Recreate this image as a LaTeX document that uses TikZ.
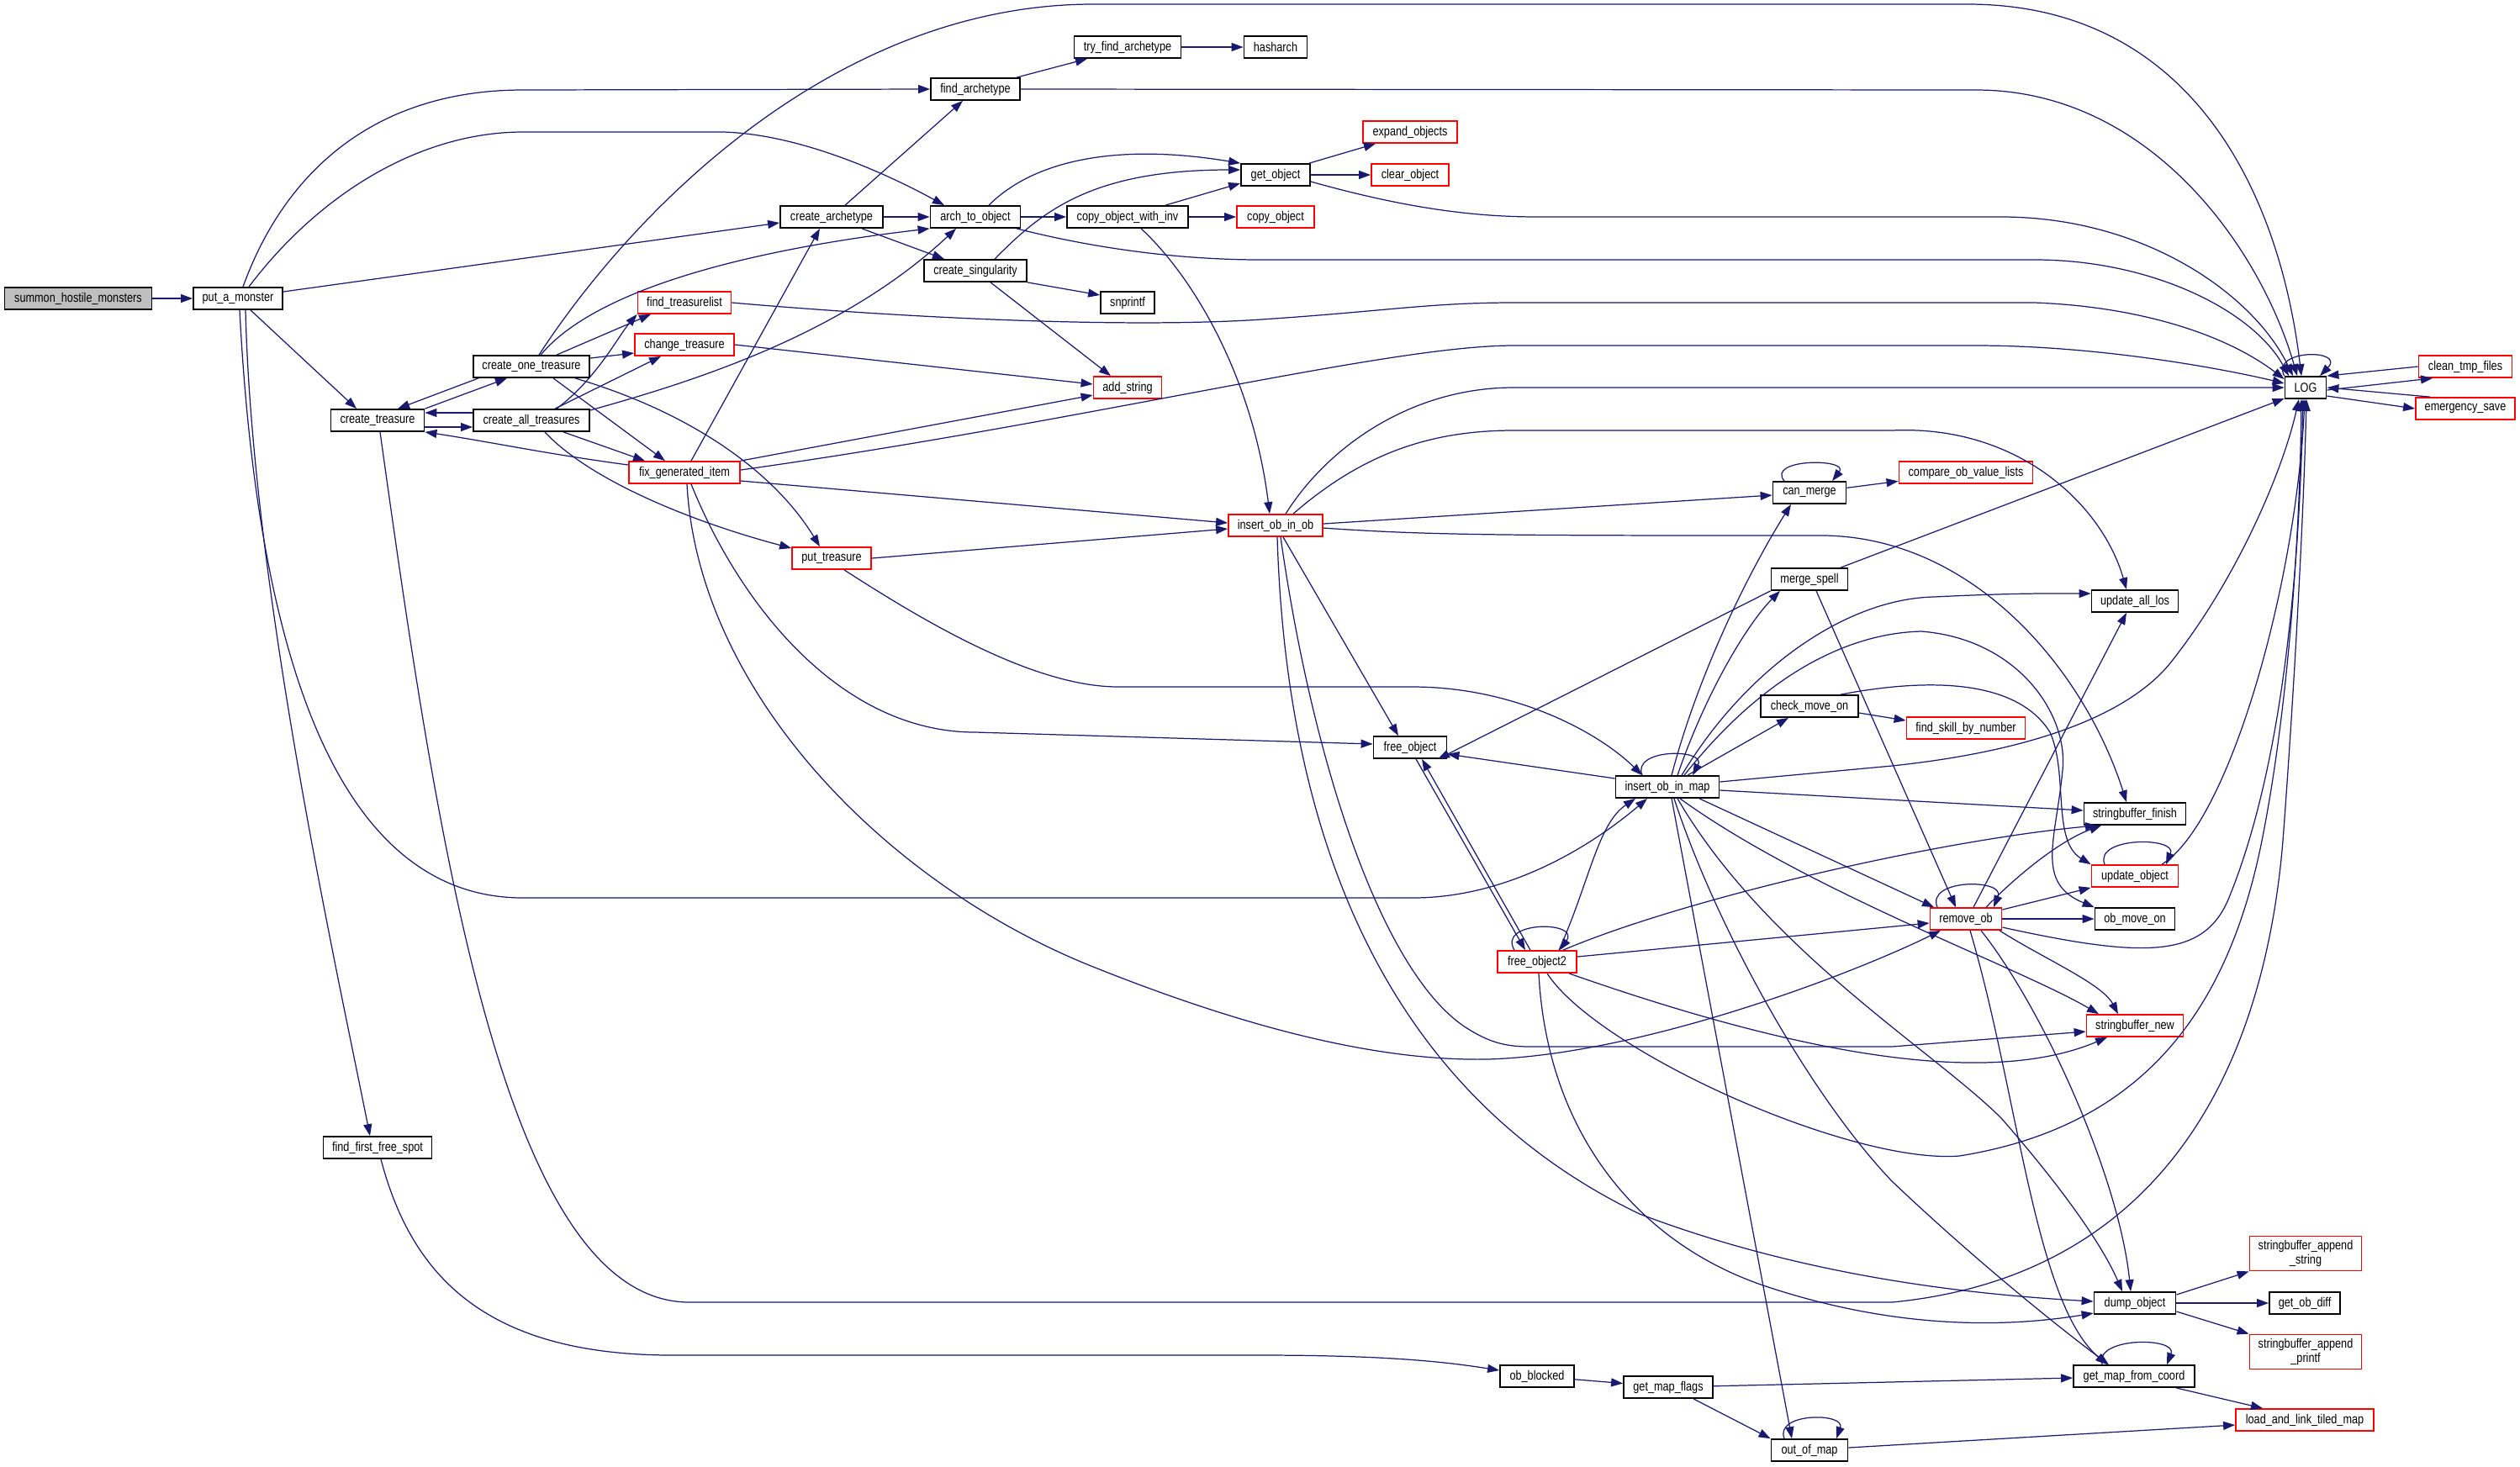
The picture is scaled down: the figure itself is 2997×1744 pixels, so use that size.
\documentclass[tikz,border=0pt]{standalone}
\usepackage{fontspec}
\setmainfont[FakeStretch=0.82]{Liberation Sans}
\usetikzlibrary{arrows.meta}
\definecolor{edgec}{RGB}{25,25,112}
\definecolor{redb}{RGB}{255,0,0}
\definecolor{rootg}{RGB}{191,191,191}
\newcommand{\gfont}{\fontsize{4.4pt}{4.8pt}\selectfont}
\begin{document}
\begin{tikzpicture}[x=0.01cm,y=-0.01cm,
  nb/.style={draw=black,line width=0.5pt,fill=white,minimum height=0.26cm,inner sep=0pt,font=\gfont,align=center},
  rb/.style={nb,draw=redb},
  e/.style={draw=edgec,line width=0.35pt,-{Triangle[length=0.14cm,width=0.1cm]}}]
\fill[white] (0,0) rectangle (2997,1744);
\useasboundingbox (0,0) rectangle (2997,1744);
% nodes
\node[nb,fill=rootg,minimum width=1.75cm] (shm) at (93,355) {summon\_hostile\_monsters};
\node[nb,minimum width=1.06cm] (pam) at (283,355) {put\_a\_monster};
\node[nb,minimum width=1.38cm] (cot) at (632,436) {create\_one\_treasure};
\node[nb,minimum width=1.11cm] (ct) at (449,500) {create\_treasure};
\node[nb,minimum width=1.38cm] (cat) at (632,500) {create\_all\_treasures};
\node[nb,minimum width=1.27cm] (tfa) at (1341,56) {try\_find\_archetype};
\node[nb,minimum width=0.75cm] (ha) at (1517,56) {hasharch};
\node[nb,minimum width=1.06cm] (fa) at (1160,106) {find\_archetype};
\node[nb,minimum width=1.22cm] (cra) at (989,258) {create\_archetype};
\node[nb,minimum width=1.07cm] (ato) at (1160,258) {arch\_to\_object};
\node[nb,minimum width=1.44cm] (cowi) at (1341,258) {copy\_object\_with\_inv};
\node[nb,minimum width=0.82cm] (go) at (1517,208) {get\_object};
\node[rb,minimum width=0.92cm] (cpo) at (1517,258) {copy\_object};
\node[nb,minimum width=1.22cm] (cs) at (1160,322) {create\_singularity};
\node[nb,minimum width=0.64cm] (sn) at (1341,360) {snprintf};
\node[rb,minimum width=1.11cm] (ftl) at (814,360) {find\_treasurelist};
\node[rb,minimum width=1.18cm] (cht) at (814,410) {change\_treasure};
\node[rb,minimum width=0.81cm] (as) at (1341,461) {add\_string};
\node[rb,minimum width=1.32cm] (fgi) at (814,562) {fix\_generated\_item};
\node[rb,minimum width=1.12cm] (eo) at (1677,157) {expand\_objects};
\node[rb,minimum width=0.92cm] (clo) at (1677,208) {clear\_object};
\node[nb,minimum width=0.87cm] (cm) at (2152,586) {can\_merge};
\node[nb,minimum width=0.49cm] (LOG) at (2742,461) {LOG};
\node[rb,minimum width=1.11cm] (ctf) at (2932,436) {clean\_tmp\_files};
\node[rb,minimum width=1.18cm] (es) at (2932,486) {emergency\_save};
\node[rb,minimum width=1.59cm] (covl) at (2338,562) {compare\_ob\_value\_lists};
\node[rb,minimum width=0.94cm] (pt) at (989,664) {put\_treasure};
\node[rb,minimum width=1.12cm] (ioo) at (1517,625) {insert\_ob\_in\_ob};
\node[nb,minimum width=0.91cm] (ms) at (2152,689) {merge\_spell};
\node[nb,minimum width=1.16cm] (cmo) at (2152,840) {check\_move\_on};
\node[nb,minimum width=0.87cm] (fo) at (1677,889) {free\_object};
\node[nb,minimum width=1.23cm] (iom) at (1983,936) {insert\_ob\_in\_map};
\node[rb,minimum width=0.94cm] (fo2) at (1828,1144) {free\_object2};
\node[nb,minimum width=1.03cm] (ual) at (2539,715) {update\_all\_los};
\node[rb,minimum width=1.41cm] (fsbn) at (2338,866) {find\_skill\_by\_number};
\node[nb,minimum width=1.21cm] (sbf) at (2539,968) {stringbuffer\_finish};
\node[rb,minimum width=1.03cm] (uo) at (2539,1042) {update\_object};
\node[rb,minimum width=0.85cm] (rmo) at (2338,1093) {remove\_ob};
\node[nb,minimum width=0.95cm] (omo) at (2539,1093) {ob\_move\_on};
\node[nb,minimum width=1.29cm] (ffs) at (449,1365) {find\_first\_free\_spot};
\node[nb,minimum width=0.88cm] (obb) at (1828,1637) {ob\_blocked};
\node[nb,minimum width=1.06cm] (gmf) at (1984,1650) {get\_map\_flags};
\node[nb,minimum width=0.91cm] (oom) at (2152,1725) {out\_of\_map};
\node[rb,minimum width=1.15cm] (sbn) at (2539,1220) {stringbuffer\_new};
\node[rb,minimum width=1.33cm,minimum height=0.41cm] (sbas) at (2742,1491) {stringbuffer\_append\\\_string};
\node[nb,minimum width=0.97cm] (dmp) at (2539,1550) {dump\_object};
\node[nb,minimum width=0.84cm] (god) at (2741,1550) {get\_ob\_diff};
\node[rb,minimum width=1.33cm,minimum height=0.41cm] (sbap) at (2742,1608) {stringbuffer\_append\\\_printf};
\node[nb,minimum width=1.44cm] (gmfc) at (2538,1637) {get\_map\_from\_coord};
\node[rb,minimum width=1.64cm] (lalt) at (2741,1689) {load\_and\_link\_tiled\_map};
% edges
\draw[e] (shm) -- (pam);
\draw[e] ([xshift=0.06cm]pam.north) .. controls (340,200) and (450,107) .. (622,107) -- (fa.west);
\draw[e] ([xshift=0.13cm]pam.north) .. controls (380,230) and (500,157) .. (622,157) -- (860,157) .. controls (960,160) and (1070,215) .. ([xshift=-0.37cm]ato.north);
\draw[e] ([yshift=0.08cm]pam.east) -- ([yshift=-0.07cm]cra.west);
\draw[e] ([xshift=0.15cm]pam.south) -- ([xshift=-0.25cm]ct.north);
\draw[e] ([xshift=0.09cm]pam.south) .. controls (300,700) and (400,1150) .. ([xshift=-0.09cm]ffs.north);
\draw[e] ([xshift=0.02cm]pam.south) .. controls (310,850) and (430,1068) .. (622,1068) -- (1680,1068) .. controls (1800,1068) and (1900,1000) .. ([xshift=-0.24cm]iom.south);
\draw[e] ([yshift=0.09cm]cat.west) -- ([yshift=0.09cm]ct.east);
\draw[e] ([yshift=-0.08cm]ct.east) -- ([yshift=-0.08cm]cat.west);
\draw[e] ([xshift=-0.63cm]cot.south) -- ([xshift=0.24cm]ct.north);
\draw[e] (ct.north east) -- ([xshift=-0.29cm]cot.south);
\draw[e] ([yshift=0.09cm]fgi.west) .. controls (650,540) and (580,525) .. (ct.south east);
\draw[e] ([xshift=0.09cm]cot.north) .. controls (760,240) and (1000,5) .. (1300,5) -- (2340,5) .. controls (2600,5) and (2710,220) .. ([xshift=-0.05cm]LOG.north);
\draw[e] ([xshift=0.11cm]cot.north) .. controls (720,330) and (950,290) .. (ato.south west);
\draw[e] ([xshift=0.3cm]cot.north) -- ([xshift=-0.4cm]ftl.south);
\draw[e] ([yshift=0.1cm]cot.east) -- ([yshift=-0.1cm]cht.west);
\draw[e] ([xshift=0.26cm]cot.south) -- ([xshift=-0.23cm]fgi.north);
\draw[e] ([xshift=0.52cm]cot.south) .. controls (820,490) and (920,560) .. ([xshift=-0.14cm]pt.north);
\draw[e] ([xshift=0.3cm]cat.north) .. controls (710,450) and (735,400) .. (ftl.south west);
\draw[e] ([xshift=0.28cm]cat.north) -- ([xshift=-0.28cm]cht.south);
\draw[e] ([yshift=0.12cm]cat.east) .. controls (820,455) and (1000,400) .. ([xshift=-0.23cm]ato.south);
\draw[e] ([xshift=0.38cm]cat.south) -- ([xshift=-0.47cm]fgi.north);
\draw[e] ([xshift=0.16cm]cat.south) .. controls (700,570) and (820,620) .. ([yshift=0.12cm]pt.west);
\draw[e] ([xshift=0.08cm]fgi.north) -- ([xshift=-0.14cm]cra.south);
\draw[e] (fgi.north east) -- ([yshift=-0.09cm]as.west);
\draw[e] ([yshift=0.03cm]fgi.east) .. controls (1300,500) and (1650,411) .. (1800,411) -- (2350,411) .. controls (2500,411) and (2650,440) .. ([yshift=0.05cm]LOG.west);
\draw[e] ([yshift=-0.1cm]fgi.east) -- ([yshift=0.03cm]ioo.west);
\draw[e] ([xshift=0.08cm]fgi.south) .. controls (880,720) and (1000,871) .. (1160,871) -- ([yshift=0.04cm]fo.west);
\draw[e] ([xshift=0.03cm]fgi.south) .. controls (830,820) and (1050,1050) .. (1300,1150) .. controls (1500,1230) and (1650,1262) .. (1768,1260) .. controls (1950,1255) and (2200,1160) .. ([xshift=-0.3cm]rmo.south);
\draw[e] (pt.east) -- ([yshift=-0.04cm]ioo.west);
\draw[e] ([xshift=0.15cm]pt.south) .. controls (1100,740) and (1230,817) .. (1330,817) -- (1680,817) .. controls (1800,817) and (1900,870) .. ([xshift=-0.3cm]iom.north);
\draw[e] ([xshift=0.16cm]cra.north) -- ([xshift=-0.15cm]fa.south);
\draw[e] (cra) -- (ato);
\draw[e] ([xshift=0.36cm]cra.south) -- ([xshift=-0.37cm]cs.north);
\draw[e] ([xshift=0.49cm]fa.north) -- ([xshift=-0.48cm]tfa.south);
\draw[e] (tfa) -- (ha);
\draw[e] (fa.east) -- (2350,107) .. controls (2560,107) and (2690,300) .. ([xshift=-0.1cm]LOG.north);
\draw[e] (ato) -- (cowi);
\draw[e] ([xshift=0.16cm]ato.north) .. controls (1230,190) and (1330,170) .. (go.north west);
\draw[e] ([xshift=0.49cm]ato.south) .. controls (1300,295) and (1400,309) .. (1500,309) -- (2420,309) .. controls (2560,309) and (2680,370) .. ([xshift=-0.2cm]LOG.north);
\draw[e] ([yshift=-0.08cm]go.east) .. controls (1680,250) and (1760,258) .. (1830,258) -- (2380,258) .. controls (2550,258) and (2680,350) .. ([xshift=-0.15cm]LOG.north);
\draw[e] (ftl.east) .. controls (1100,380) and (1350,390) .. (1500,380) .. controls (1650,370) and (1700,360) .. (1800,360) -- (2420,360) .. controls (2550,365) and (2650,400) .. ([yshift=0.1cm]LOG.west);
\draw[e] ([xshift=0.45cm]cowi.north) -- ([yshift=-0.1cm]go.west);
\draw[e] (cowi) -- (cpo);
\draw[e] ([xshift=0.16cm]cowi.south) .. controls (1420,330) and (1490,450) .. ([xshift=-0.07cm]ioo.north);
\draw[e] ([xshift=0.23cm]cs.north) .. controls (1240,250) and (1300,202) .. ([yshift=0.06cm]go.west);
\draw[e] (cs.south east) -- ([yshift=0.09cm]sn.west);
\draw[e] ([xshift=0.18cm]cs.south) -- ([xshift=-0.2cm]as.north);
\draw[e] ([xshift=0.4cm]go.north) -- ([xshift=-0.41cm]eo.south);
\draw[e] (go) -- (clo);
\draw[e] (cht.east) -- ([yshift=0.04cm]as.west);
\draw[e] ([xshift=0.12cm]ioo.north) .. controls (1580,530) and (1680,461) .. (1800,461) -- (LOG.west);
\draw[e] ([xshift=0.21cm]ioo.north) .. controls (1620,540) and (1700,512) .. (1800,512) -- (2250,512) .. controls (2400,505) and (2500,600) .. ([xshift=-0.1cm]ual.north);
\draw[e] ([yshift=0.02cm]ioo.east) -- ([yshift=-0.03cm]cm.west);
\draw[e] ([yshift=-0.03cm]ioo.east) .. controls (1700,637) and (1800,637) .. (2170,637) .. controls (2350,640) and (2480,800) .. ([xshift=-0.1cm]sbf.north);
\draw[e] ([xshift=0.09cm]ioo.south) -- ([xshift=-0.14cm]fo.north);
\draw[e] ([xshift=0.02cm]ioo.south) .. controls (1530,1000) and (1650,1300) .. (1950,1444) .. controls (2150,1520) and (2350,1540) .. ([yshift=0.02cm]dmp.west);
\draw[e] ([xshift=0.06cm]ioo.south) .. controls (1560,900) and (1640,1150) .. (1740,1220) .. controls (1770,1240) and (1790,1245) .. (1820,1245) -- (2250,1245) -- ([yshift=-0.07cm]sbn.west);
\draw[e] ([xshift=-0.3cm]cm.north) .. controls (2100,545) and (2200,545) .. ([xshift=0.27cm]cm.north);
\draw[e] (cm) -- (covl);
\draw[e] ([yshift=0.1cm]iom.west) -- ([yshift=-0.08cm]fo.east);
\draw[e] ([xshift=-0.3cm]iom.north) .. controls (1940,890) and (2030,890) .. ([xshift=0.3cm]iom.north);
\draw[e] ([xshift=0.05cm]iom.north) .. controls (2020,800) and (2080,680) .. ([xshift=-0.22cm]cm.south);
\draw[e] ([xshift=0.12cm]iom.north) .. controls (2030,820) and (2080,740) .. ([xshift=-0.35cm]ms.south);
\draw[e] ([xshift=0.17cm]iom.north) .. controls (2080,790) and (2200,712) .. (2300,710) .. controls (2400,705) and (2450,706) .. ([yshift=0.09cm]ual.west);
\draw[e] ([xshift=0.2cm]iom.north) .. controls (2100,800) and (2200,753) .. (2285,751) .. controls (2400,760) and (2460,850) .. (2453,916) .. controls (2445,1000) and (2420,1050) .. (omo.north west);
\draw[e] ([xshift=0.37cm]cmo.north) .. controls (2300,805) and (2400,810) .. (2438,871) .. controls (2460,920) and (2440,1000) .. (uo.north west);
\draw[e] ([xshift=0.24cm]iom.north) -- ([xshift=-0.25cm]cmo.south);
\draw[e] ([yshift=0.06cm]iom.east) -- (2250,911) .. controls (2420,893) and (2530,850) .. (2580,790) .. controls (2660,690) and (2715,560) .. ([xshift=-0.08cm]LOG.south);
\draw[e] ([yshift=-0.04cm]iom.east) -- ([yshift=0.04cm]sbf.west);
\draw[e] ([xshift=0.38cm]iom.south) -- ([xshift=-0.38cm]rmo.north);
\draw[e] ([xshift=0.15cm]iom.south) .. controls (2150,1060) and (2400,1150) .. ([xshift=-0.43cm]sbn.north);
\draw[e] ([xshift=0.05cm]iom.south) -- ([xshift=-0.21cm]oom.north);
\draw[e] ([xshift=0.08cm]iom.south) .. controls (2040,1100) and (2150,1300) .. (2250,1405) .. controls (2350,1500) and (2450,1580) .. ([xshift=-0.3cm]gmfc.north);
\draw[e] ([xshift=0.12cm]iom.south) .. controls (2100,1130) and (2300,1250) .. (2380,1330) .. controls (2450,1410) and (2500,1480) .. ([xshift=-0.15cm]dmp.north);
\draw[e] ([yshift=-0.08cm]cmo.east) -- ([yshift=0.09cm]fsbn.west);
\draw[e] ([xshift=0.37cm]ms.north) -- ([yshift=-0.13cm]LOG.west);
\draw[e] (ms.south west) -- ([xshift=0.33cm]fo.south);
\draw[e] ([xshift=0.08cm]ms.south) -- ([xshift=-0.12cm]rmo.north);
\draw[e] ([xshift=0.07cm]fo.south) -- ([xshift=-0.14cm]fo2.north);
\draw[e] ([xshift=-0.08cm]fo2.north) -- ([xshift=0.14cm]fo.south);
\draw[e] ([xshift=-0.27cm]fo2.north) .. controls (1780,1095) and (1880,1095) .. ([xshift=0.27cm]fo2.north);
\draw[e] ([xshift=0.26cm]fo2.north) .. controls (1890,1050) and (1900,980) .. ([xshift=-0.38cm]iom.south);
\draw[e] ([xshift=0.31cm]fo2.north) .. controls (2000,1070) and (2300,1000) .. ([xshift=-0.45cm]sbf.south);
\draw[e] ([yshift=0.06cm]fo2.east) -- ([yshift=-0.05cm]rmo.west);
\draw[e] ([xshift=0.38cm]fo2.south) .. controls (2100,1240) and (2350,1300) .. ([xshift=-0.33cm]sbn.south);
\draw[e] ([xshift=0.12cm]fo2.south) .. controls (1900,1250) and (2200,1385) .. (2330,1375) .. controls (2550,1340) and (2650,1200) .. (2690,1000) .. controls (2720,850) and (2735,650) .. ([xshift=-0.05cm]LOG.south);
\draw[e] ([xshift=0.02cm]fo2.south) .. controls (1840,1350) and (1950,1480) .. (2100,1530) .. controls (2250,1580) and (2380,1580) .. ([yshift=-0.12cm]dmp.west);
\draw[e] ([xshift=-0.34cm]rmo.north) .. controls (2290,1045) and (2385,1045) .. ([xshift=0.33cm]rmo.north);
\draw[e] ([xshift=0.09cm]rmo.north) -- ([xshift=-0.1cm]ual.south);
\draw[e] ([xshift=0.24cm]rmo.north) .. controls (2400,1040) and (2450,1000) .. ([xshift=-0.4cm]sbf.south);
\draw[e] ([yshift=0.11cm]rmo.east) -- (uo.south west);
\draw[e] (rmo) -- (omo);
\draw[e] ([yshift=-0.1cm]rmo.east) .. controls (2550,1140) and (2620,1140) .. (2650,1070) .. controls (2720,900) and (2735,650) .. ([xshift=-0.03cm]LOG.south);
\draw[e] ([xshift=0.4cm]rmo.south) .. controls (2430,1140) and (2500,1170) .. ([xshift=-0.2cm]sbn.north);
\draw[e] ([xshift=0.18cm]rmo.south) .. controls (2430,1200) and (2520,1400) .. ([xshift=-0.05cm]dmp.north);
\draw[e] ([xshift=0.05cm]rmo.south) .. controls (2400,1300) and (2420,1550) .. ([xshift=-0.32cm]gmfc.north);
\draw[e] ([xshift=-0.36cm]uo.north) .. controls (2490,995) and (2590,995) .. ([xshift=0.37cm]uo.north);
\draw[e] ([xshift=0.32cm]uo.north) .. controls (2650,980) and (2730,700) .. ([xshift=-0.01cm]LOG.south);
\draw[e] ([yshift=0.1cm]dmp.east) -- (sbas.south west);
\draw[e] (dmp) -- (god);
\draw[e] ([yshift=-0.1cm]dmp.east) -- (sbap.north west);
\draw[e] ([xshift=-0.38cm]gmfc.north) .. controls (2490,1590) and (2590,1590) .. ([xshift=0.39cm]gmfc.north);
\draw[e] ([xshift=0.5cm]gmfc.south) -- ([xshift=-0.5cm]lalt.north);
\draw[e] ([xshift=-0.3cm]oom.north) .. controls (2110,1680) and (2195,1680) .. ([xshift=0.32cm]oom.north);
\draw[e] ([yshift=0.03cm]oom.east) -- ([yshift=-0.06cm]lalt.west);
\draw[e] (obb) -- (gmf);
\draw[e] ([xshift=0.3cm]gmf.south) -- (oom.north west);
\draw[e] (gmf) -- ([yshift=-0.02cm]gmfc.west);
\draw[e] ([xshift=0.04cm]ffs.south) .. controls (490,1520) and (580,1612) .. (800,1612) -- (1500,1612) .. controls (1650,1612) and (1720,1620) .. ([yshift=0.07cm]obb.west);
\draw[e] ([xshift=0.03cm]ct.south) .. controls (520,1000) and (600,1549) .. (820,1549) -- (2250,1549) .. controls (2550,1520) and (2690,1300) .. (2715,1000) .. controls (2730,800) and (2740,600) .. ([xshift=0.01cm]LOG.south);
\draw[e] (LOG.north west) .. controls (2700,415) and (2790,415) .. ([xshift=0.17cm]LOG.north);
\draw[e] ([yshift=-0.03cm]LOG.east) -- ([xshift=-0.39cm]ctf.south);
\draw[e] (ctf.west) -- (LOG.north east);
\draw[e] ([yshift=-0.1cm]LOG.east) -- (es.west);
\draw[e] ([xshift=-0.42cm]es.north) -- (LOG.east);
\end{tikzpicture}
\end{document}
